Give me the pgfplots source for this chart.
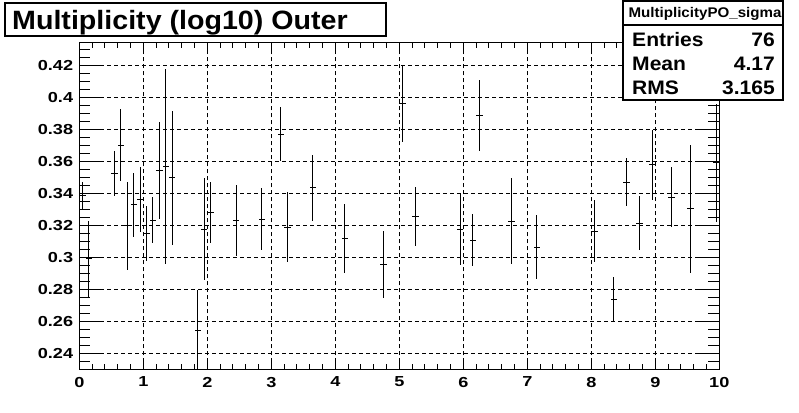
\documentclass[border=0pt]{standalone}
\usepackage{fontspec}
\setmainfont{Liberation Sans}[FakeStretch=1.08]
\newfontfamily\tickfont{Liberation Sans}[FakeStretch=1.25]
\usepackage{pgfplots}
\pgfplotsset{compat=1.18}
\usepackage{pgfplotstable}

\pgfplotstableread{
x y ey
0.05 0.3383 0.0086
0.15 0.2990 0.0239
0.55 0.3525 0.0140
0.65 0.3700 0.0224
0.75 0.3196 0.0275
0.85 0.3327 0.0202
0.95 0.3363 0.0204
1.05 0.3150 0.0172
1.15 0.3231 0.0143
1.25 0.3544 0.0304
1.35 0.3569 0.0608
1.45 0.3496 0.0418
1.85 0.2544 0.0254
1.95 0.3175 0.0320
2.05 0.3281 0.0189
2.45 0.3231 0.0222
2.85 0.3238 0.0193
3.15 0.3769 0.0170
3.25 0.3188 0.0220
3.65 0.3433 0.0205
4.15 0.3119 0.0215
4.75 0.2956 0.0209
5.05 0.3960 0.0239
5.25 0.3256 0.0184
5.95 0.3175 0.0225
6.15 0.3106 0.0162
6.25 0.3888 0.0221
6.75 0.3225 0.0268
7.15 0.3063 0.0199
8.05 0.3162 0.0194
8.35 0.2737 0.0142
8.55 0.3470 0.0148
8.75 0.3212 0.0168
8.95 0.3577 0.0220
9.25 0.3375 0.0187
9.55 0.3302 0.0402
9.95 0.3591 0.0368
}\datatable

\begin{document}
\begin{tikzpicture}
\useasboundingbox (0pt,0pt) rectangle (799pt,412pt);
\fill[white] (0pt,0pt) rectangle (799pt,412pt);
\begin{axis}[
  at={(79.3pt,42.7pt)}, anchor=south west,
  scale only axis, width=640pt, height=326.6pt,
  xmin=0, xmax=10, ymin=0.23, ymax=0.4341,
  xtick={0,1,2,3,4,5,6,7,8,9,10},
  xticklabels={0,1,2,3,4,5,6,7,8,9,10},
  minor x tick num=4,
  ytick={0.24,0.26,0.28,0.30,0.32,0.34,0.36,0.38,0.40,0.42},
  yticklabels={0.24,0.26,0.28,0.3,0.32,0.34,0.36,0.38,0.4,0.42},
  minor ytick={0.23,0.235,0.245,0.25,0.255,0.265,0.27,0.275,0.285,0.29,0.295,0.305,0.31,0.315,0.325,0.33,0.335,0.345,0.35,0.355,0.365,0.37,0.375,0.385,0.39,0.395,0.405,0.41,0.415,0.425,0.43},
  tick align=inside,
  xtick style={/pgfplots/major tick length=10pt,/pgfplots/minor tick length=5pt, line width=1pt, black},
  ytick style={/pgfplots/major tick length=21pt,/pgfplots/minor tick length=11pt, line width=1pt, black},
  grid=major,
  major grid style={black, line width=0.8pt, dash pattern=on 4pt off 3pt},
  axis line style={line width=1.4pt, black},
  yticklabel style={font=\tickfont\fontsize{14.5}{16}\selectfont\bfseries, anchor=east, inner sep=0pt, xshift=-6pt},
  xticklabel style={font=\tickfont\fontsize{14.5}{16}\selectfont\bfseries, anchor=north, inner sep=0pt, yshift=-7.5pt},
  clip=true,
]
\addplot[draw=none, mark=none,
  error bars/.cd, x dir=both, x fixed=0.05, y dir=both, y explicit, error mark=none,
  error bar style={line width=1pt, draw=black, solid}]
  table[x=x, y=y, y error=ey]{\datatable};
\end{axis}
% title box
\draw[line width=1.2pt, fill=white] (5pt,376pt) rectangle (386pt,409pt);
\node[anchor=base west, inner sep=0pt] at (12pt,382.7pt) {\fontsize{26.5}{30}\selectfont\bfseries Multiplicity (log10) Outer};
% stats box
\draw[line width=1.2pt, fill=white] (623pt,312pt) rectangle (783pt,411pt);
\draw[line width=1.2pt] (623pt,387pt) -- (783pt,387pt);
\node[anchor=base, inner sep=0pt] at (705pt,394.7pt) {\fontsize{14}{16}\selectfont\bfseries MultiplicityPO\_sigma};
\node[anchor=base west, inner sep=0pt] at (632pt,365pt) {\fontsize{19.5}{22}\selectfont\bfseries Entries};
\node[anchor=base east, inner sep=0pt] at (775pt,365pt) {\fontsize{19.5}{22}\selectfont\bfseries 76};
\node[anchor=base west, inner sep=0pt] at (632pt,341pt) {\fontsize{19.5}{22}\selectfont\bfseries Mean};
\node[anchor=base east, inner sep=0pt] at (775pt,341pt) {\fontsize{19.5}{22}\selectfont\bfseries 4.17};
\node[anchor=base west, inner sep=0pt] at (632pt,317pt) {\fontsize{19.5}{22}\selectfont\bfseries RMS};
\node[anchor=base east, inner sep=0pt] at (775pt,317pt) {\fontsize{19.5}{22}\selectfont\bfseries 3.165};
\end{tikzpicture}
\end{document}
